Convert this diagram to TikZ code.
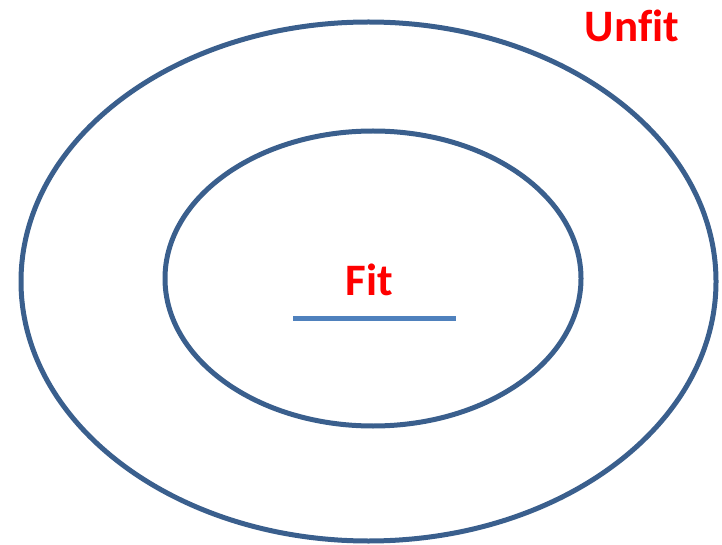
\documentclass[tikz,border=0pt]{standalone}
\usepackage{fontspec}
\setmainfont{Carlito}[Ligatures=NoCommon]
\definecolor{ringblue}{HTML}{3A5F8D}
\definecolor{lineblue}{HTML}{4F81BD}
\definecolor{labelred}{HTML}{FF0000}
\begin{document}
\begin{tikzpicture}[x=1pt,y=1pt,
  ring/.style={draw=ringblue,line width=5pt},
  lbl/.style={text=labelred,font=\fontsize{45}{50}\selectfont\bfseries,anchor=base,inner sep=0pt}]
\useasboundingbox (0,0) rectangle (722,544);
\draw[ring] (368.5,262.5) ellipse [x radius=347.5, y radius=259.5];
\draw[ring] (373,265.5) ellipse [x radius=208, y radius=147.5];
\node[lbl] (fit) at (369.5,249) {Fit};
\node[lbl] (unfit) at (632,502) {Unfit};
\coordinate (l1) at (293,226);
\coordinate (l2) at (456,226);
\draw[lineblue,line width=5pt] (l1) -- (l2);
\end{tikzpicture}
\end{document}
